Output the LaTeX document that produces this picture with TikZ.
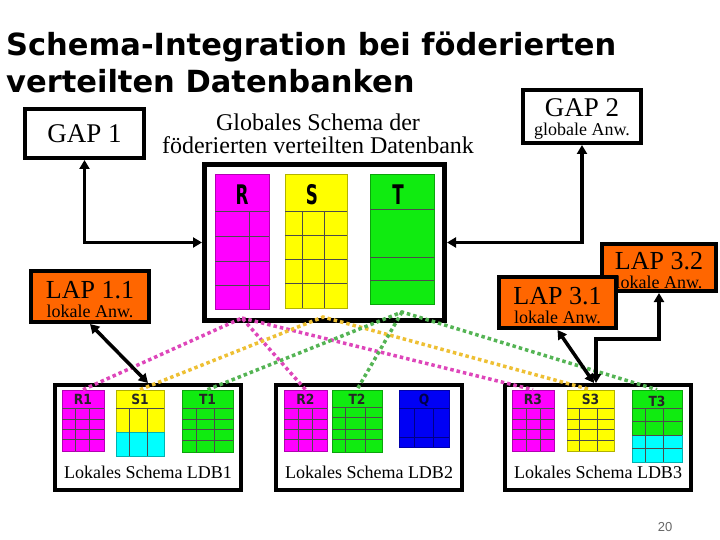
\documentclass[tikz,border=0pt]{standalone}
\usepackage{fontspec}
\setmainfont{Liberation Serif}
\newfontfamily\titlefont{DejaVu Sans}
\newfontfamily\headfont{DejaVu Sans}[FakeStretch=0.62]
\newfontfamily\lblfont{DejaVu Sans}[FakeStretch=0.88]
\newfontfamily\numfont{Liberation Sans}
\usetikzlibrary{arrows.meta, fit}
\definecolor{cmag}  {RGB}{255,  0,255}
\definecolor{cyel}  {RGB}{255,255,  0}
\definecolor{cgrn}  {RGB}{ 16,235, 16}
\definecolor{ccyan} {RGB}{  0,255,255}
\definecolor{cblue} {RGB}{  0,  0,245}
\definecolor{corng} {RGB}{255,102,  0}
\definecolor{dmag}  {RGB}{222, 70,186}
\definecolor{dyel}  {RGB}{238,192, 52}
\definecolor{dgrn}  {RGB}{ 84,180, 84}
\tikzset{
  box/.style={draw=black, line width=4pt, fill=white, inner sep=0pt, align=center},
  lapbox/.style={box, fill=corng},
  boxtext/.style={inner sep=0pt, align=center},
  tabcell/.style={draw=#1!70!black, line width=0.6pt, fill=#1, inner sep=0pt},
  cellline/.style={draw=black!70, line width=0.8pt},
  dbl/.style={{Triangle[length=9pt,width=10pt]}-{Triangle[length=9pt,width=10pt]}, line width=3.5pt},
  dotline/.style={draw=#1, line width=3.5pt, dash pattern=on 3.5pt off 3pt},
  head/.style={font=\headfont\bfseries\fontsize{27}{27}\selectfont, inner sep=0pt, anchor=base},
  lbl/.style={font=\lblfont\bfseries\fontsize{14}{14}\selectfont, inner sep=0pt, anchor=base, text=black!85},
  ldb/.style={font=\fontsize{18}{18}\selectfont, inner sep=0pt, anchor=base},
}

\begin{document}
\begin{tikzpicture}[x=1pt, y=-1pt]
  \useasboundingbox[fill=white] (0,0) rectangle (720,540);

  % ── Title ──────────────────────────────────────────────────────────────────
  \node[font=\titlefont\bfseries\fontsize{30.5}{30}\selectfont, anchor=base west, inner sep=0pt]
       at (6,56) (title1) {Schema-Integration bei föderierten};
  \node[font=\titlefont\bfseries\fontsize{30.5}{30}\selectfont, anchor=base west, inner sep=0pt]
       at (6,93) (title2) {verteilten Datenbanken};

  % ── Global level ───────────────────────────────────────────────────────────
  \node[box, minimum width=119pt, minimum height=49pt, font=\fontsize{27}{27}\selectfont]
       at (84.5,133.5) (gap1) {GAP 1};
  \node[box, minimum width=118pt, minimum height=53pt] at (582,116.5) (gap2) {};
  \node[boxtext, font=\fontsize{27}{19}\selectfont] at ([yshift=-2.5pt]gap2.center) (gap2t)
       {GAP 2\\\fontsize{18}{19}\selectfont globale Anw.};
  \node[align=center, inner sep=0pt, font=\fontsize{24}{23}\selectfont]
       at (318,134) (globlbl) {Globales Schema der\\föderierten verteilten Datenbank};
  \node[box, line width=5pt, minimum width=240pt, minimum height=156pt]
       at (324.5,242.5) (glob) {};

  % global tables
  \node[tabcell=cmag, fit={(215,174)(269,309)}] (R) {};
  \foreach \y in {211,236,261,285} \draw[cellline] (215,\y) -- (269,\y);
  \draw[cellline] (249,211) -- (249,309);
  \node[head] at (242,205) (Rl) {R};
  \node[tabcell=cyel, fit={(285,174)(347,308)}] (S) {};
  \foreach \y in {211,235,259,283} \draw[cellline] (285,\y) -- (347,\y);
  \foreach \x in {302,324} \draw[cellline] (\x,211) -- (\x,308);
  \node[head] at (312,205) (Sl) {S};
  \node[tabcell=cgrn, fit={(370,174)(434,304)}] (T) {};
  \foreach \y in {209,257,280} \draw[cellline] (370,\y) -- (434,\y);
  \node[head] at (398,205) (Tl) {T};

  % ── Local applications ─────────────────────────────────────────────────────
  \node[lapbox, minimum width=118pt, minimum height=51pt] at (90,296.5) (lap11) {};
  \node[boxtext, font=\fontsize{26}{19}\selectfont] at ([yshift=-3pt]lap11.center) (lap11t)
       {LAP 1.1\\\fontsize{18}{19}\selectfont lokale Anw.};
  \node[lapbox, minimum width=114pt, minimum height=47pt] at (659,267.5) (lap32) {};
  \node[boxtext, font=\fontsize{26}{19}\selectfont] at ([yshift=-3pt]lap32.center) (lap32t)
       {LAP 3.2\\\fontsize{18}{19}\selectfont lokale Anw.};
  \node[lapbox, minimum width=117pt, minimum height=51pt] at (557.5,302.5) (lap31) {};
  \node[boxtext, font=\fontsize{26}{19}\selectfont] at ([yshift=-3pt]lap31.center) (lap31t)
       {LAP 3.1\\\fontsize{18}{19}\selectfont lokale Anw.};

  % ── Local databases ────────────────────────────────────────────────────────
  \node[box, minimum width=186pt, minimum height=105pt] at (148,437.5) (ldb1) {};
  \node[box, minimum width=186pt, minimum height=105pt] at (369,437.5) (ldb2) {};
  \node[box, minimum width=186pt, minimum height=105pt] at (598,437.5) (ldb3) {};
  \node[ldb] at (148,478) (ldb1l) {Lokales Schema LDB1};
  \node[ldb] at (369,478) (ldb2l) {Lokales Schema LDB2};
  \node[ldb] at (598,478) (ldb3l) {Lokales Schema LDB3};

  % LDB1
  \node[tabcell=cmag, fit={(62,390)(104,451)}] (r1) {};
  \foreach \y in {408,419,429,439} \draw[cellline] (62,\y) -- (104,\y);
  \foreach \x in {75,89} \draw[cellline] (\x,408) -- (\x,451);
  \node[lbl] at (83,404) (r1l) {R1};
  \node[tabcell=cyel, fit={(116,390)(164,456)}] (s1) {};
  \filldraw[fill=ccyan, draw=ccyan!70!black, line width=0.6pt] (116,432) rectangle (164,456);
  \draw[cellline] (116,408) -- (164,408);
  \foreach \x in {129,147} \draw[cellline] (\x,408) -- (\x,456);
  \node[lbl] at (140,404) (s1l) {S1};
  \node[tabcell=cgrn, fit={(182,390)(233,452)}] (t1) {};
  \foreach \y in {408,419,429,440} \draw[cellline] (182,\y) -- (233,\y);
  \foreach \x in {196,214} \draw[cellline] (\x,408) -- (\x,452);
  \node[lbl] at (207.5,404) (t1l) {T1};

  % LDB2
  \node[tabcell=cmag, fit={(284,390)(327,451)}] (r2) {};
  \foreach \y in {408,419,429,439} \draw[cellline] (284,\y) -- (327,\y);
  \foreach \x in {298,312} \draw[cellline] (\x,408) -- (\x,451);
  \node[lbl] at (305.5,404) (r2l) {R2};
  \node[tabcell=cgrn, fit={(332,390)(382,452)}] (t2) {};
  \foreach \y in {407,417,429,439} \draw[cellline] (332,\y) -- (382,\y);
  \foreach \x in {345,365} \draw[cellline] (\x,407) -- (\x,452);
  \node[lbl] at (357,404) (t2l) {T2};
  \node[tabcell=cblue, fit={(399,390)(449,447)}] (q) {};
  \foreach \y in {408,437} \draw[cellline, draw=cblue!55!black] (399,\y) -- (449,\y);
  \foreach \x in {414,433} \draw[cellline, draw=cblue!55!black] (\x,408) -- (\x,447);
  \node[lbl, text=cblue!30!black] at (424,404) (ql) {Q};

  % LDB3
  \node[tabcell=cmag, fit={(512,390)(554,451)}] (r3) {};
  \foreach \y in {408,419,429,439} \draw[cellline] (512,\y) -- (554,\y);
  \foreach \x in {526,540} \draw[cellline] (\x,408) -- (\x,451);
  \node[lbl] at (533,404) (r3l) {R3};
  \node[tabcell=cyel, fit={(567,390)(614,451)}] (s3) {};
  \foreach \y in {408,419,429,440} \draw[cellline] (567,\y) -- (614,\y);
  \foreach \x in {579,597} \draw[cellline] (\x,408) -- (\x,451);
  \node[lbl] at (590.5,404) (s3l) {S3};
  \node[tabcell=cgrn, fit={(632,390)(682,462)}] (t3) {};
  \filldraw[fill=ccyan, draw=ccyan!70!black, line width=0.6pt] (632,435) rectangle (682,462);
  \foreach \y in {408,421,435,448} \draw[cellline] (632,\y) -- (682,\y);
  \foreach \x in {645,663} \draw[cellline] (\x,408) -- (\x,462);
  \node[lbl] at (657,406) (t3l) {T3};

  % ── Schema mappings (dotted) ───────────────────────────────────────────────
  \coordinate (pR) at (242,318);
  \coordinate (pS) at (323,317);
  \coordinate (pT) at (402,312);
  \draw[dotline=dmag] (r1.north) -- (pR) -- (r2.north);
  \draw[dotline=dmag] (pR) -- (r3.north);
  \draw[dotline=dyel] (s1.north) -- (pS) -- (s3.north);
  \draw[dotline=dgrn] (t1.north) -- (pT) -- (t3.north);
  \draw[dotline=dgrn] (pT) -- (t2.north);

  % ── Arrows ─────────────────────────────────────────────────────────────────
  \draw[dbl] (gap1.south) |- (glob.west);
  \draw[dbl] (gap2.south) |- (glob.east);
  \draw[dbl] (lap11.south) -- (ldb1.north);
  \draw[dbl] (lap31.south) -- ([xshift=-4pt]ldb3.north);
  \draw[dbl] (lap32.south) -- ++(0,46) -| ([xshift=-2pt]ldb3.north);

  % ── Page number ────────────────────────────────────────────────────────────
  \node[font=\numfont\fontsize{13}{13}\selectfont, text=black!60] at (665,527) (pg) {20};
\end{tikzpicture}
\end{document}
